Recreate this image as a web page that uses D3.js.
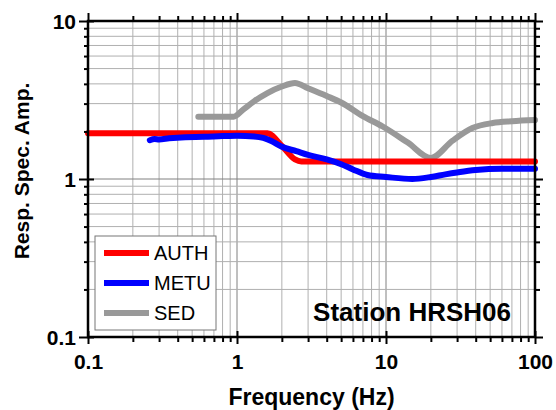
<!DOCTYPE html>
<html>
<head>
<meta charset="utf-8">
<script src="https://cdn.jsdelivr.net/npm/d3@7"></script>
<style>
  body { margin: 0; background: #fff; }
  svg { display: block; font-family: "Liberation Sans", Arial, Helvetica, sans-serif; }
</style>
</head>
<body>
<svg id="chart" width="556" height="410"></svg>
<script>
// values
var freqAUTH = [0.1, 1.6, 2.0, 2.45, 2.7, 100];
var ampAUTH = [1.95, 1.95, 1.62, 1.33, 1.29, 1.29];

var freqMETU = [0.26, 0.28, 0.3, 0.35, 0.45, 0.6, 0.8, 1.0, 1.3, 1.5, 1.7, 2.0, 2.5, 3.0, 4.0, 5.0, 6.0, 7.5, 10, 15, 20, 25, 30, 40, 60, 100];
var ampMETU = [1.76, 1.79, 1.78, 1.81, 1.84, 1.85, 1.87, 1.88, 1.86, 1.82, 1.74, 1.6, 1.5, 1.42, 1.33, 1.24, 1.15, 1.06, 1.03, 1.0, 1.03, 1.07, 1.1, 1.14, 1.16, 1.16];

var freqSED = [0.55, 0.95, 1.1, 1.3, 1.6, 2.0, 2.45, 3.0, 4.0, 5.0, 7.0, 9.5, 14, 20, 28, 38, 52, 70, 100];
var ampSED = [2.48, 2.48, 2.75, 3.1, 3.5, 3.85, 4.05, 3.75, 3.35, 3.05, 2.5, 2.15, 1.7, 1.36, 1.75, 2.1, 2.26, 2.32, 2.36];

var seriesNames = ["AUTH", "METU", "SED"];
var seriesColors = { AUTH: "#ff0000", METU: "#0000ff", SED: "#999999" };
var xTicks = [0.1, 1, 10, 100];
var yTicks = [0.1, 1, 10];
var stationLabel = "Station HRSH06";

var svg = d3.select("#chart");
var margin = { left: 88, right: 21, top: 21, bottom: 73 };
var width = 556, height = 410;

var x = d3.scaleLog().domain([0.1, 100]).range([margin.left, width - margin.right]);
var y = d3.scaleLog().domain([0.1, 10]).range([height - margin.bottom, margin.top]);

function minors(domain) {
  var out = [];
  for (var d = domain[0]; d < domain[1] * 0.999; d *= 10)
    for (var k = 2; k <= 9; k++) out.push(d * k);
  return out;
}
var xMinor = minors(x.domain());
var yMinor = minors(y.domain());

// grid
var grid = svg.append("g");
grid.selectAll(".vx").data(xMinor.concat(xTicks)).join("line")
  .attr("x1", d => x(d)).attr("x2", d => x(d))
  .attr("y1", y(10)).attr("y2", y(0.1))
  .attr("stroke", d => xTicks.includes(d) ? "#808080" : "#b0b0b0")
  .attr("stroke-width", 1);
grid.selectAll(".hy").data(yMinor.concat(yTicks)).join("line")
  .attr("y1", d => y(d)).attr("y2", d => y(d))
  .attr("x1", x(0.1)).attr("x2", x(100))
  .attr("stroke", d => yTicks.includes(d) ? "#808080" : "#b0b0b0")
  .attr("stroke-width", 1);

// curves
var line = d3.line().x(d => x(d[0])).y(d => y(d[1])).curve(d3.curveMonotoneX);
var curves = {
  AUTH: d3.zip(freqAUTH, ampAUTH),
  METU: d3.zip(freqMETU, ampMETU),
  SED: d3.zip(freqSED, ampSED)
};
["SED", "AUTH", "METU"].forEach(function (k) {
  svg.append("path")
    .datum(curves[k])
    .attr("fill", "none")
    .attr("stroke", seriesColors[k])
    .attr("stroke-width", 6)
    .attr("stroke-linejoin", "round")
    .attr("stroke-linecap", "round")
    .attr("d", line);
});

// axes
function styleAxis(g) {
  g.select(".domain").remove();
  g.selectAll("line").attr("stroke", "#000").attr("stroke-width", 2);
  g.selectAll("text").attr("font-size", 21).attr("font-weight", "bold").attr("fill", "#000");
}

svg.append("g")
  .attr("transform", `translate(0,${y(0.1)})`)
  .call(d3.axisBottom(x).tickValues(xTicks).tickFormat(d3.format("")).tickSize(7).tickPadding(10))
  .call(styleAxis)
  .call(g => g.selectAll(".tick line").attr("y1", -6));
svg.append("g")
  .attr("transform", `translate(0,${y(0.1)})`)
  .call(d3.axisBottom(x).tickValues(xMinor).tickFormat("").tickSize(5))
  .call(styleAxis);

svg.append("g")
  .attr("transform", `translate(0,${y(10)})`)
  .call(d3.axisTop(x).tickValues(xTicks).tickFormat("").tickSize(8))
  .call(styleAxis);
svg.append("g")
  .attr("transform", `translate(0,${y(10)})`)
  .call(d3.axisTop(x).tickValues(xMinor).tickFormat("").tickSize(5))
  .call(styleAxis);

svg.append("g")
  .attr("transform", `translate(${x(0.1)},0)`)
  .call(d3.axisLeft(y).tickValues(yTicks).tickFormat(d3.format("")).tickSize(9).tickPadding(3))
  .call(styleAxis)
  .call(g => g.selectAll(".tick line").attr("x1", 6))
  .call(g => g.selectAll(".tick text").attr("dy", "0.36em"));
svg.append("g")
  .attr("transform", `translate(${x(0.1)},0)`)
  .call(d3.axisLeft(y).tickValues(yMinor).tickFormat("").tickSize(4))
  .call(styleAxis);

svg.append("g")
  .attr("transform", `translate(${x(100)},0)`)
  .call(d3.axisRight(y).tickValues(yTicks).tickFormat("").tickSize(8))
  .call(styleAxis);
svg.append("g")
  .attr("transform", `translate(${x(100)},0)`)
  .call(d3.axisRight(y).tickValues(yMinor).tickFormat("").tickSize(5))
  .call(styleAxis);

// frame
svg.append("rect")
  .attr("x", x(0.1)).attr("y", y(10))
  .attr("width", x(100) - x(0.1)).attr("height", y(0.1) - y(10))
  .attr("fill", "none").attr("stroke", "#000").attr("stroke-width", 2.5);

// axis titles
svg.append("text")
  .attr("x", (x(0.1) + x(100)) / 2).attr("y", 405)
  .attr("text-anchor", "middle")
  .attr("font-size", 23).attr("font-weight", "bold")
  .text("Frequency (Hz)");

svg.append("text")
  .attr("transform", `translate(29,${(y(0.1) + y(10)) / 2 - 8}) rotate(-90)`)
  .attr("text-anchor", "middle")
  .attr("font-size", 21).attr("font-weight", "bold")
  .text("Resp. Spec. Amp.");

// station label
svg.append("text")
  .attr("x", 511).attr("y", 321)
  .attr("text-anchor", "end")
  .attr("font-size", 26).attr("font-weight", "bold")
  .text(stationLabel);

// legend
var legend = svg.append("g").attr("transform", "translate(95,236)");
legend.append("rect")
  .attr("width", 121).attr("height", 94)
  .attr("fill", "#fff").attr("stroke", "#777").attr("stroke-width", 1);
var rows = legend.selectAll(".row").data(seriesNames).join("g")
  .attr("transform", (d, i) => `translate(0,${17 + i * 30})`);
rows.append("line")
  .attr("x1", 9).attr("x2", 54)
  .attr("stroke", d => seriesColors[d]).attr("stroke-width", 6);
rows.append("text")
  .attr("x", 59).attr("dy", "0.35em")
  .attr("font-size", 20)
  .text(d => d);
</script>
</body>
</html>
